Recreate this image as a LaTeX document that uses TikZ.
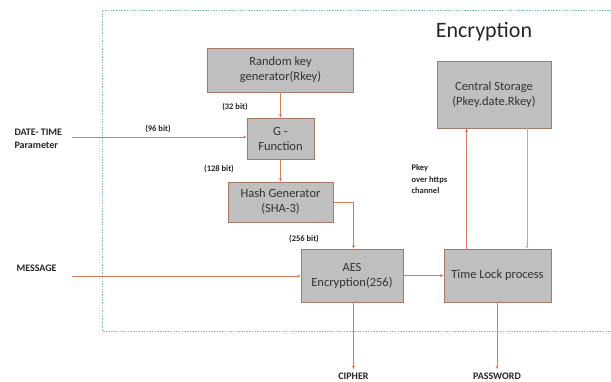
\documentclass[tikz,border=0pt]{standalone}
\usepackage{fontspec}
\setmainfont{Carlito}
\usetikzlibrary{arrows.meta}
\definecolor{boxgray}{RGB}{191,191,191}
\definecolor{boxline}{RGB}{170,120,105}
\definecolor{arrowc}{RGB}{214,122,90}
\definecolor{paleline}{RGB}{195,170,150}
\definecolor{framec}{RGB}{130,195,180}
\begin{document}
\begin{tikzpicture}[x=1pt, y=-1pt,
  blk/.style={draw=boxline, fill=boxgray, line width=0.8pt, inner sep=2pt, align=center,
    font=\fontsize{12.5}{15}\selectfont, text=black!80},
  bitlbl/.style={font=\bfseries\fontsize{8.5}{10}\selectfont, text=black!85},
  iolbl/.style={font=\bfseries\fontsize{10}{13}\selectfont, align=left, text=black!85},
  flow/.style={draw=arrowc, line width=0.6pt, -{Stealth[length=3.5pt,width=3pt]}}]
\useasboundingbox (0,0) rectangle (611,381);
% frame
\draw[framec, line width=0.6pt, dash pattern=on 1.5pt off 1.2pt] (102.5,10.5) -- (615,10.5);
\draw[framec, line width=0.6pt, dash pattern=on 1.5pt off 1.2pt] (102.5,10.5) -- (102.5,331) -- (615,331);
\node[font=\fontsize{22}{26}\selectfont, text=black!85] (title) at (484,32) {Encryption};
% blocks
\node[blk, minimum width=146pt, minimum height=44pt] (rkey) at (280.5,70) {Random key\\generator(Rkey)};
\node[blk, minimum width=67pt, minimum height=41pt] (gfn) at (280.5,138.5) {G -\\Function};
\node[blk, minimum width=105pt, minimum height=40pt] (hash) at (280.5,202) {Hash Generator\\(SHA-3)};
\node[blk, minimum width=102pt, minimum height=53pt] (aes) at (352,275.5) {AES\\Encryption(256)};
\node[blk, minimum width=107pt, minimum height=53pt] (tlock) at (497.5,275.5) {Time Lock process};
\node[blk, minimum width=114pt, minimum height=67pt] (store) at (494,94.5) {Central Storage\\(Pkey.date.Rkey)};
% inputs and outputs
\node[iolbl, anchor=west] (date) at (11,139) {DATE- TIME\\Parameter};
\node[iolbl, anchor=west] (msg) at (13,268) {MESSAGE};
\node[iolbl] (cipher) at (353.5,376) {CIPHER};
\node[iolbl] (pwd) at (497,376) {PASSWORD};
\coordinate (datein) at (72,137);
\coordinate (msgin) at (72,276);
% bit labels
\node[bitlbl] (b32) at (235,107) {(32 bit)};
\node[bitlbl] (b96) at (158,129) {(96 bit)};
\node[bitlbl] (b128) at (219,169) {(128 bit)};
\node[bitlbl] (b256) at (304,239) {(256 bit)};
\node[bitlbl, font=\bfseries\fontsize{8.5}{11.5}\selectfont, align=left, anchor=north west] (pkey) at (408,161) {Pkey\\over https\\channel};
% connectors
\draw[flow] (rkey.south) -- (gfn.north);
\draw[flow] (gfn.south) -- (hash.north);
\draw[flow] (datein) -- (datein -| gfn.west);
\draw[flow] (msgin) -- (msgin -| aes.west);
\draw[flow] ([xshift=0.5pt]hash.east) -| ([xshift=1.5pt]aes.north);
\draw[flow] (aes.east) -- (tlock.west);
\draw[flow] ([xshift=-31pt]tlock.north) -- ([xshift=-31pt]tlock.north |- store.south);
\draw[flow, draw=paleline] ([xshift=33pt]store.south) -- ([xshift=33pt]store.south |- tlock.north);
\draw[flow] ([xshift=1.5pt]aes.south) -- ([xshift=1.5pt]aes.south |- cipher.north);
\draw[flow] ([xshift=-0.5pt]tlock.south) -- ([xshift=-0.5pt]tlock.south |- pwd.north);
\end{tikzpicture}
\end{document}
